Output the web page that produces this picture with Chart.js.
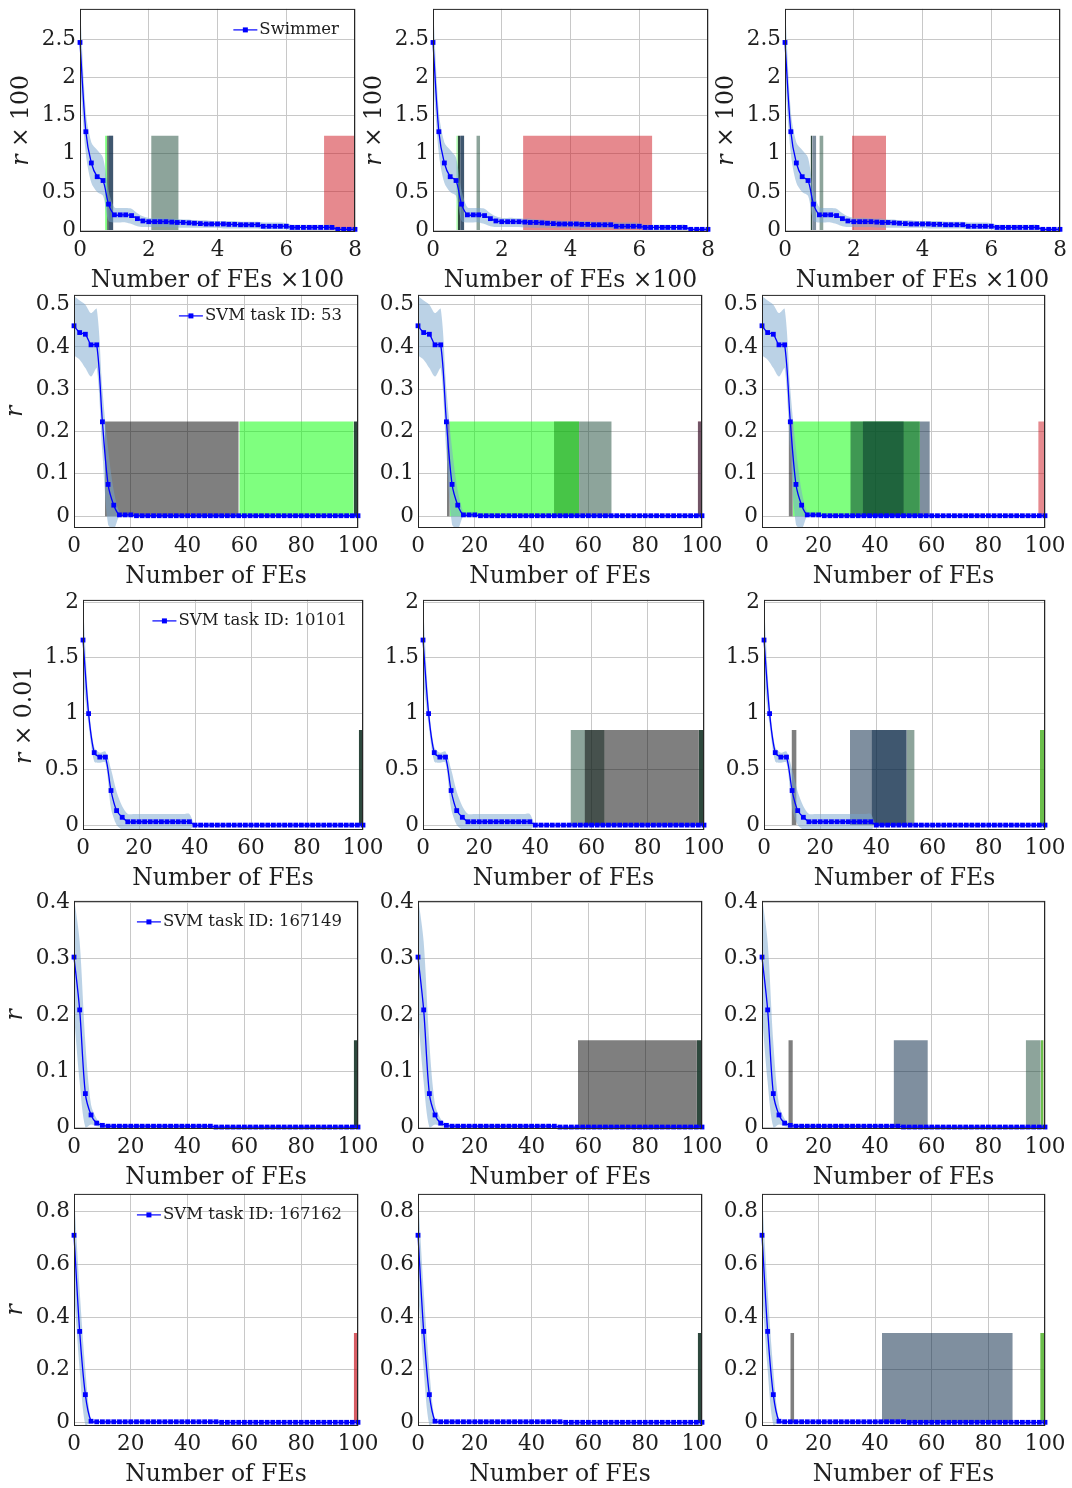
<!DOCTYPE html>
<html>
<head>
<meta charset="utf-8">
<script src="https://cdn.jsdelivr.net/npm/chart.js@4.4.0/dist/chart.umd.min.js"></script>
<style>
  html, body { margin: 0; padding: 0; background: #fff; }
  #wrap { position: relative; width: 1072px; height: 1488px; overflow: hidden; }
  #wrap canvas { position: absolute; }
</style>
</head>
<body>
<div id="wrap"></div>
<script>
// ---- data ----
// FE positions of the markers (Swimmer row is in units of 100 FEs)
const fesSwimmer = [0, 0.17, 0.33, 0.5, 0.67, 0.83, 1, 1.17, 1.33, 1.5,
  1.67, 1.83, 2, 2.17, 2.33, 2.5, 2.67, 2.83, 3, 3.17,
  3.33, 3.5, 3.67, 3.83, 4, 4.17, 4.33, 4.5, 4.67, 4.83,
  5, 5.17, 5.33, 5.5, 5.67, 5.83, 6, 6.17, 6.33, 6.5,
  6.67, 6.83, 7, 7.17, 7.33, 7.5, 7.67, 7.83, 8];
const fesSvm = [0, 2, 4, 6, 8, 10, 12, 14, 16, 18,
  20, 22, 24, 26, 28, 30, 32, 34, 36, 38,
  40, 42, 44, 46, 48, 50, 52, 54, 56, 58,
  60, 62, 64, 66, 68, 70, 72, 74, 76, 78,
  80, 82, 84, 86, 88, 90, 92, 94, 96, 98, 100];

// Swimmer (r x 100): mean and spread band
const rSwimmer = [2.46, 1.29, 0.88, 0.70, 0.65, 0.34, 0.20, 0.20, 0.20, 0.19,
  0.15, 0.12, 0.11, 0.11, 0.11, 0.11, 0.105, 0.10, 0.10, 0.095,
  0.09, 0.085, 0.08, 0.08, 0.08, 0.08, 0.075, 0.075, 0.07, 0.07,
  0.07, 0.07, 0.05, 0.05, 0.05, 0.05, 0.05, 0.035, 0.035, 0.035,
  0.035, 0.035, 0.035, 0.035, 0.035, 0.01, 0.01, 0.01, 0.01];
const rSwimmerLow = [2.0, 1.0, 0.62, 0.50, 0.45, 0.12, 0.10, 0.10, 0.10, 0.08,
  0.05, 0.04, 0.04, 0.04, 0.04, 0.04, 0.035, 0.035, 0.03, 0.03,
  0.03, 0.03, 0.03, 0.03, 0.03, 0.02, 0.02, 0.02, 0.02, 0.02,
  0.02, 0.02, 0.01, 0.01, 0.01, 0.01, 0.01, 0, 0, 0,
  0, 0, 0, 0, 0, 0, 0, 0, 0];
const rSwimmerHigh = [2.95, 1.55, 1.15, 1.05, 0.95, 0.52, 0.30, 0.29, 0.29, 0.28,
  0.22, 0.18, 0.16, 0.16, 0.16, 0.155, 0.15, 0.15, 0.14, 0.14,
  0.13, 0.13, 0.13, 0.12, 0.12, 0.12, 0.12, 0.12, 0.11, 0.11,
  0.11, 0.11, 0.10, 0.10, 0.10, 0.10, 0.09, 0.07, 0.07, 0.07,
  0.07, 0.07, 0.07, 0.07, 0.07, 0.02, 0.02, 0.02, 0.02];

// SVM task 53
const r53 = [0.450, 0.434, 0.430, 0.405, 0.405, 0.223, 0.075, 0.026, 0.003, 0.003,
  0.003, 0.001, 0.001, 0.001, 0.001, 0.001, 0.001, 0.001, 0.001, 0.001,
  0.001, 0.001, 0.001, 0.001, 0.001, 0.001, 0.001, 0.001, 0.001, 0.001,
  0.001, 0.001, 0.001, 0.001, 0.001, 0.001, 0.001, 0.001, 0.001, 0.001,
  0.001, 0.001, 0.001, 0.001, 0.001, 0.001, 0.001, 0.001, 0.001, 0.001, 0.001];
const r53Low = [0.38, 0.37, 0.35, 0.33, 0.35, 0.15, -0.02, -0.03, 0, 0,
  0, 0, 0, 0, 0, 0, 0, 0, 0, 0,
  0, 0, 0, 0, 0, 0, 0, 0, 0, 0,
  0, 0, 0, 0, 0, 0, 0, 0, 0, 0,
  0, 0, 0, 0, 0, 0, 0, 0, 0, 0, 0];
const r53High = [0.52, 0.51, 0.50, 0.48, 0.49, 0.30, 0.16, 0.06, 0.01, 0.006,
  0.005, 0.003, 0.003, 0.003, 0.003, 0.003, 0.003, 0.003, 0.003, 0.003,
  0.003, 0.003, 0.003, 0.003, 0.003, 0.003, 0.003, 0.003, 0.003, 0.003,
  0.003, 0.003, 0.003, 0.003, 0.003, 0.003, 0.003, 0.003, 0.003, 0.003,
  0.003, 0.003, 0.003, 0.003, 0.003, 0.003, 0.003, 0.003, 0.003, 0.003, 0.003];

// SVM task 10101 (r x 0.01)
const r10101 = [1.66, 1.0, 0.65, 0.61, 0.61, 0.31, 0.13, 0.07, 0.03, 0.03,
  0.03, 0.03, 0.03, 0.03, 0.03, 0.03, 0.03, 0.03, 0.03, 0.03,
  0, 0, 0, 0, 0, 0, 0, 0, 0, 0,
  0, 0, 0, 0, 0, 0, 0, 0, 0, 0,
  0, 0, 0, 0, 0, 0, 0, 0, 0, 0, 0];
const r10101Low = [1.3, 0.9, 0.57, 0.56, 0.56, 0.15, 0.0, -0.04, -0.045, -0.045,
  -0.045, -0.045, -0.045, -0.045, -0.045, -0.045, -0.045, -0.045, -0.045, -0.045,
  0, 0, 0, 0, 0, 0, 0, 0, 0, 0,
  0, 0, 0, 0, 0, 0, 0, 0, 0, 0,
  0, 0, 0, 0, 0, 0, 0, 0, 0, 0, 0];
const r10101High = [2.0, 1.1, 0.70, 0.65, 0.66, 0.50, 0.30, 0.17, 0.10, 0.10,
  0.10, 0.10, 0.10, 0.10, 0.10, 0.10, 0.10, 0.10, 0.10, 0.10,
  0, 0, 0, 0, 0, 0, 0, 0, 0, 0,
  0, 0, 0, 0, 0, 0, 0, 0, 0, 0,
  0, 0, 0, 0, 0, 0, 0, 0, 0, 0, 0];

// SVM task 167149
const r167149 = [0.303, 0.209, 0.06, 0.022, 0.0075, 0.0035, 0.002, 0.002, 0.002, 0.002,
  0.002, 0.002, 0.002, 0.002, 0.002, 0.002, 0.002, 0.002, 0.002, 0.002,
  0.002, 0.002, 0.002, 0.002, 0.002, 0.0005, 0.0005, 0.0005, 0.0005, 0.0005,
  0.0005, 0.0005, 0.0005, 0.0005, 0.0005, 0.0005, 0.0005, 0.0005, 0.0005, 0.0005,
  0.0005, 0.0005, 0.0005, 0.0005, 0.0005, 0.0005, 0.0005, 0.0005, 0.0005, 0.0005, 0.0005];
const r167149Low = [0.2, 0.08, 0.0, 0.005, 0.002, 0.001, 0.001, 0.001, 0.001, 0.001,
  0.001, 0.001, 0.001, 0.001, 0.001, 0.001, 0.001, 0.001, 0.001, 0.001,
  0.001, 0.001, 0.001, 0.001, 0.001, 0, 0, 0, 0, 0,
  0, 0, 0, 0, 0, 0, 0, 0, 0, 0,
  0, 0, 0, 0, 0, 0, 0, 0, 0, 0, 0];
const r167149High = [0.41, 0.33, 0.15, 0.04, 0.015, 0.006, 0.004, 0.004, 0.004, 0.004,
  0.004, 0.004, 0.004, 0.004, 0.004, 0.004, 0.004, 0.004, 0.004, 0.004,
  0.004, 0.004, 0.004, 0.004, 0.004, 0.001, 0.001, 0.001, 0.001, 0.001,
  0.001, 0.001, 0.001, 0.001, 0.001, 0.001, 0.001, 0.001, 0.001, 0.001,
  0.001, 0.001, 0.001, 0.001, 0.001, 0.001, 0.001, 0.001, 0.001, 0.001, 0.001];

// SVM task 167162
const r167162 = [0.711, 0.346, 0.106, 0.005, 0.003, 0.003, 0.003, 0.003, 0.003, 0.003,
  0.003, 0.003, 0.003, 0.003, 0.003, 0.003, 0.003, 0.003, 0.003, 0.003,
  0.003, 0.003, 0.003, 0.003, 0.003, 0.003, 0.001, 0.001, 0.001, 0.001,
  0.001, 0.001, 0.001, 0.001, 0.001, 0.001, 0.001, 0.001, 0.001, 0.001,
  0.001, 0.001, 0.001, 0.001, 0.001, 0.001, 0.001, 0.001, 0.001, 0.001, 0.001];
const r167162Low = [0.5, 0.2, -0.01, 0.0, 0.001, 0.001, 0.001, 0.001, 0.001, 0.001,
  0.001, 0.001, 0.001, 0.001, 0.001, 0.001, 0.001, 0.001, 0.001, 0.001,
  0.001, 0.001, 0.001, 0.001, 0.001, 0.001, 0, 0, 0, 0,
  0, 0, 0, 0, 0, 0, 0, 0, 0, 0,
  0, 0, 0, 0, 0, 0, 0, 0, 0, 0, 0];
const r167162High = [0.87, 0.5, 0.2, 0.01, 0.005, 0.005, 0.005, 0.005, 0.005, 0.005,
  0.005, 0.005, 0.005, 0.005, 0.005, 0.005, 0.005, 0.005, 0.005, 0.005,
  0.005, 0.005, 0.005, 0.005, 0.005, 0.005, 0.002, 0.002, 0.002, 0.002,
  0.002, 0.002, 0.002, 0.002, 0.002, 0.002, 0.002, 0.002, 0.002, 0.002,
  0.002, 0.002, 0.002, 0.002, 0.002, 0.002, 0.002, 0.002, 0.002, 0.002, 0.002];

const seriesNames = ['Swimmer', 'SVM task ID: 53', 'SVM task ID: 10101', 'SVM task ID: 167149', 'SVM task ID: 167162'];
const yTitleSuffix = [' × 100', '', ' × 0.01', '', ''];
const xTitles = ['Number of FEs ×100', 'Number of FEs', 'Number of FEs', 'Number of FEs', 'Number of FEs'];
const xTicksSwimmer = [0, 2, 4, 6, 8];
const xTicksSvm = [0, 20, 40, 60, 80, 100];
const yTicks = [
  [0, 0.5, 1, 1.5, 2, 2.5],
  [0, 0.1, 0.2, 0.3, 0.4, 0.5],
  [0, 0.5, 1, 1.5, 2],
  [0, 0.1, 0.2, 0.3, 0.4],
  [0, 0.2, 0.4, 0.6, 0.8]
];
const yLimits = [[-0.025, 2.9], [-0.028, 0.523], [-0.044, 2.02], [-0.003, 0.403], [-0.013, 0.868]];

// highlighted FE intervals: [from, to, group]; one list per column, one block per row
// (later entries are painted over earlier ones)
const spanHeights = [1.237, 0.224, 0.853, 0.155, 0.34];
const spans = [
  [
    [[0.73, 0.79, 'green'], [0.79, 0.84, 'dark'], [0.84, 0.97, 'slate'], [0.84, 0.97, 'slate'], [2.07, 2.87, 'teal'], [7.1, 8.0, 'red']],
    [[0.68, 0.72, 'green'], [0.72, 0.79, 'dark'], [0.79, 0.91, 'slate'], [0.79, 0.91, 'slate'], [1.26, 1.37, 'teal'], [2.62, 6.38, 'red']],
    [[0.745, 0.79, 'dark'], [0.79, 0.91, 'slate'], [1.0, 1.12, 'teal'], [1.95, 2.94, 'red']]
  ],
  [
    [[10.9, 58, 'black'], [58.2, 98.5, 'green'], [98.5, 100, 'dark']],
    [[10.2, 11.2, 'black'], [11.2, 56.7, 'green'], [47.9, 56.7, 'dkgreen'], [56.7, 68.2, 'teal'], [98.5, 100, 'red'], [98.5, 100, 'slate']],
    [[9.4, 10.9, 'black'], [10.9, 55.8, 'green'], [31.2, 55.8, 'forest'], [35.6, 50.1, 'forest'], [55.8, 59.3, 'slate'], [97.6, 100, 'red']]
  ],
  [
    [[98.5, 100, 'dark']],
    [[52.5, 64.6, 'teal'], [57.5, 98.2, 'black'], [98.2, 100, 'dark']],
    [[9.8, 11.6, 'black'], [30.6, 50.8, 'slate'], [38.3, 50.8, 'slate'], [50.8, 53.6, 'teal'], [98.2, 100, 'lime']]
  ],
  [
    [[98.5, 100, 'dark']],
    [[56.3, 98.2, 'black'], [98.2, 100, 'dark']],
    [[9.3, 10.9, 'black'], [46.5, 58.6, 'slate'], [93.2, 98.5, 'teal'], [98.5, 99.5, 'lime'], [99.5, 100, 'red']]
  ],
  [
    [[98.5, 100, 'rose']],
    [[98.5, 100, 'dark']],
    [[10, 11.4, 'black'], [42.4, 88.6, 'slate'], [98.3, 100, 'lime']]
  ]
];

// ---- styling / layout ----
const spanColors = {
  green: 'rgba(0,255,0,0.5)',
  dkgreen: 'rgba(16,140,16,0.5)',
  forest: 'rgba(0,50,40,0.5)',
  black: 'rgba(0,0,0,0.5)',
  teal: 'rgba(28,74,56,0.5)',
  slate: 'rgba(0,32,64,0.5)',
  red: 'rgba(205,20,30,0.5)',
  rose: 'rgba(200,30,40,0.72)',
  lime: 'rgba(70,175,30,0.8)',
  dark: 'rgba(22,52,40,0.9)'
};
const FONT = '"DejaVu Serif", serif';
const TEXT = '#1e1e1e';
const BLUE = '#0000ff';
const TICK_SIZE = 21.5;
const TITLE_SIZE = 23.5;

// plot-area boxes [left, top, right, bottom] in page pixels
const panelBoxes = [
  [[80, 6, 355, 232], [433, 6, 708, 232], [785, 6, 1060, 232]],
  [[74, 292, 358, 528], [418, 292, 702, 528], [762, 292, 1045, 528]],
  [[83, 597, 363, 830], [423, 597, 704, 830], [764, 597, 1045, 830]],
  [[74, 898, 358, 1129], [418, 898, 702, 1129], [762, 898, 1045, 1129]],
  [[74, 1191, 358, 1426], [418, 1191, 702, 1426], [762, 1191, 1045, 1426]]
];
const PAD_L = 75, PAD_R = 34, PAD_T = 14, PAD_B = 66;

const rows = [
  { fes: fesSwimmer, mean: rSwimmer, low: rSwimmerLow, high: rSwimmerHigh, xTicks: xTicksSwimmer, xMax: 8 },
  { fes: fesSvm, mean: r53, low: r53Low, high: r53High, xTicks: xTicksSvm, xMax: 100 },
  { fes: fesSvm, mean: r10101, low: r10101Low, high: r10101High, xTicks: xTicksSvm, xMax: 100 },
  { fes: fesSvm, mean: r167149, low: r167149Low, high: r167149High, xTicks: xTicksSvm, xMax: 100 },
  { fes: fesSvm, mean: r167162, low: r167162Low, high: r167162High, xTicks: xTicksSvm, xMax: 100 }
];

// frame, y-axis title with italic r, and the in-plot legend
const panelDecor = {
  id: 'panelDecor',
  afterDraw(chart, args, opts) {
    const { ctx, chartArea: a } = chart;
    ctx.save();
    ctx.strokeStyle = '#262626';
    ctx.lineWidth = 1;
    ctx.strokeRect(a.left + 0.5, a.top + 0.5, a.right - a.left - 1, a.bottom - a.top - 1);

    if (opts.ySuffix !== null) {
      ctx.save();
      ctx.translate(a.left - 58, (a.top + a.bottom) / 2);
      ctx.rotate(-Math.PI / 2);
      ctx.textBaseline = 'middle';
      ctx.fillStyle = TEXT;
      ctx.font = 'italic ' + TITLE_SIZE + 'px ' + FONT;
      const w1 = ctx.measureText('r').width;
      ctx.font = TITLE_SIZE + 'px ' + FONT;
      const w2 = ctx.measureText(opts.ySuffix).width;
      const x0 = -(w1 + w2) / 2;
      ctx.font = 'italic ' + TITLE_SIZE + 'px ' + FONT;
      ctx.fillText('r', x0, 0);
      ctx.font = TITLE_SIZE + 'px ' + FONT;
      ctx.fillText(opts.ySuffix, x0 + w1, 0);
      ctx.restore();
    }

    if (opts.legend) {
      ctx.font = '16.5px ' + FONT;
      ctx.textBaseline = 'middle';
      const tw = ctx.measureText(opts.legend).width;
      const tx = a.right - 16 - tw;
      const ty = a.top + 21;
      ctx.fillStyle = TEXT;
      ctx.fillText(opts.legend, tx, ty);
      ctx.strokeStyle = BLUE;
      ctx.lineWidth = 1.2;
      ctx.beginPath();
      ctx.moveTo(tx - 26, ty);
      ctx.lineTo(tx - 2, ty);
      ctx.stroke();
      ctx.fillStyle = BLUE;
      ctx.fillRect(tx - 16.5, ty - 2.5, 5, 5);
    }
    ctx.restore();
  }
};

function buildConfig(row, col) {
  const s = rows[row];
  const pts = (ys) => s.fes.map((x, i) => ({ x: x, y: ys[i] }));
  const datasets = [
    {
      data: pts(s.mean), order: 0, borderColor: BLUE, borderWidth: 1.3,
      pointStyle: 'rect', pointRadius: 3.4, pointBackgroundColor: BLUE,
      pointBorderWidth: 0, tension: 0.3, fill: false, clip: 5
    },
    {
      data: pts(s.high), order: 1, borderWidth: 0, pointRadius: 0, tension: 0.3,
      fill: '+1', backgroundColor: 'rgba(120,165,205,0.5)'
    },
    {
      data: pts(s.low), order: 1, borderWidth: 0, pointRadius: 0, tension: 0.3, fill: false
    }
  ];
  // higher order is painted first, so earlier spans go underneath
  spans[row][col].forEach(([x0, x1, g], k) => {
    datasets.push({
      data: [{ x: x0, y: spanHeights[row] }, { x: x1, y: spanHeights[row] }],
      order: 100 - k, borderWidth: 0, pointRadius: 0, tension: 0,
      fill: 'origin', backgroundColor: spanColors[g]
    });
  });

  const tickFont = { family: FONT, size: TICK_SIZE };
  return {
    type: 'line',
    data: { datasets },
    plugins: [panelDecor],
    options: {
      responsive: false,
      animation: false,
      devicePixelRatio: 1,
      layout: { padding: { left: 0, right: PAD_R, top: PAD_T, bottom: 0 } },
      plugins: {
        legend: { display: false },
        tooltip: { enabled: false },
        panelDecor: {
          ySuffix: (row === 0 || col === 0) ? yTitleSuffix[row] : null,
          legend: col === 0 ? seriesNames[row] : null
        }
      },
      scales: {
        x: {
          type: 'linear', min: 0, max: s.xMax,
          afterFit: (sc) => { sc.height = PAD_B; },
          afterBuildTicks: (sc) => { sc.ticks = s.xTicks.map(v => ({ value: v })); },
          grid: { color: '#c8c8c8', lineWidth: 1, drawTicks: false },
          border: { display: false },
          ticks: { font: tickFont, color: TEXT, padding: 6, maxRotation: 0, autoSkip: false, callback: (v) => String(v) },
          title: { display: true, text: xTitles[row], color: TEXT, font: { family: FONT, size: TITLE_SIZE }, padding: { top: 0, bottom: 3 } }
        },
        y: {
          type: 'linear', min: yLimits[row][0], max: yLimits[row][1],
          afterFit: (sc) => { sc.width = PAD_L; },
          afterBuildTicks: (sc) => { sc.ticks = yTicks[row].map(v => ({ value: v })); },
          grid: { color: '#c8c8c8', lineWidth: 1, drawTicks: false },
          border: { display: false },
          ticks: { font: tickFont, color: TEXT, padding: 4, autoSkip: false, callback: (v) => String(v) }
        }
      }
    }
  };
}

const wrap = document.getElementById('wrap');
panelBoxes.forEach((rowBoxes, row) => {
  rowBoxes.forEach((box, col) => {
    const [L, T, R, B] = box;
    const w = R - L + PAD_L + PAD_R;
    const h = B - T + PAD_T + PAD_B;
    const cv = document.createElement('canvas');
    cv.width = w;
    cv.height = h;
    cv.style.left = (L - PAD_L) + 'px';
    cv.style.top = (T - PAD_T) + 'px';
    cv.style.width = w + 'px';
    cv.style.height = h + 'px';
    wrap.appendChild(cv);
    new Chart(cv, buildConfig(row, col));
  });
});
</script>
</body>
</html>
